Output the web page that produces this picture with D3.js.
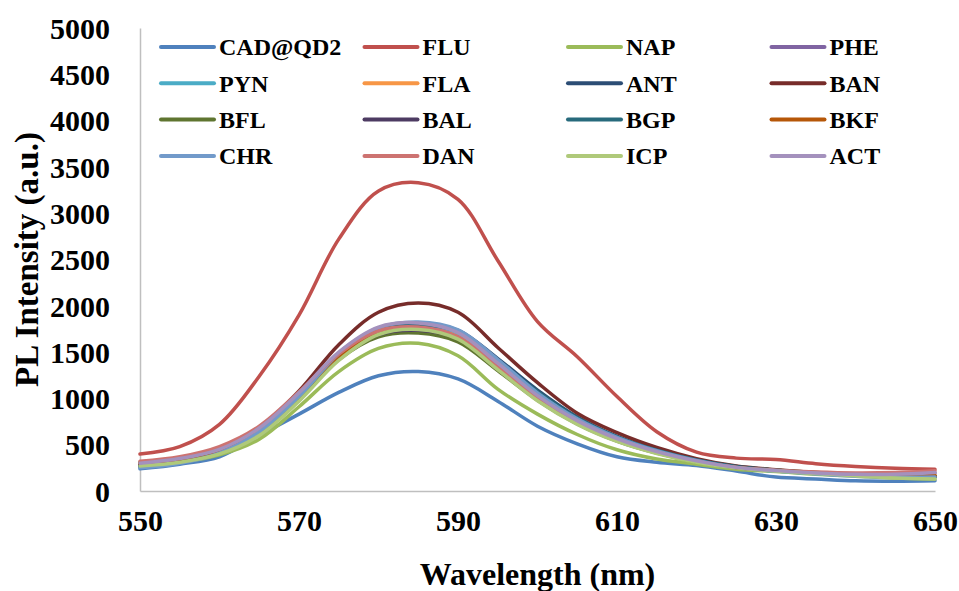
<!DOCTYPE html>
<html>
<head>
<meta charset="utf-8">
<script src="https://cdn.jsdelivr.net/npm/d3@7"></script>
<style>
  html, body { margin: 0; padding: 0; background: #ffffff; }
  svg { display: block; }
  text { font-family: "Liberation Serif", "Times New Roman", serif; font-weight: bold; fill: #000; }
</style>
</head>
<body>
<svg id="chart" width="959" height="591"></svg>
<script>
// Emission wavelengths (nm)
const wavelengths = [550, 555, 560, 565, 570, 575, 580, 585, 590, 595, 600,
                     605, 610, 615, 620, 625, 630, 635, 640, 645, 650];

// PL intensity (a.u.) of each sample at the wavelengths above
const CAD_QD2 = [240, 290, 370, 600, 830, 1065, 1245, 1290, 1210, 970, 700, 510, 370, 310, 275, 215, 150, 130, 110, 105, 110];
const FLU = [400, 480, 720, 1240, 1900, 2720, 3240, 3330, 3150, 2490, 1830, 1450, 1020, 640, 420, 355, 340, 295, 265, 245, 235];
const NAP = [270, 310, 390, 560, 910, 1290, 1540, 1595, 1460, 1100, 830, 610, 445, 345, 290, 235, 210, 180, 160, 140, 130];
const PHE = [290, 340, 440, 670, 1050, 1490, 1760, 1810, 1705, 1375, 1025, 755, 560, 420, 320, 255, 220, 195, 180, 180, 195];
const PYN = [285, 335, 435, 660, 1035, 1465, 1735, 1790, 1690, 1370, 1020, 750, 555, 415, 315, 250, 215, 190, 170, 160, 165];
const FLA = [300, 350, 450, 670, 1040, 1460, 1715, 1765, 1665, 1350, 1010, 745, 555, 420, 320, 255, 220, 195, 175, 165, 170];
const ANT = [260, 310, 420, 650, 1030, 1470, 1750, 1805, 1735, 1430, 1090, 800, 590, 440, 335, 265, 225, 195, 175, 160, 160];
const BAN = [280, 340, 440, 680, 1080, 1580, 1930, 2030, 1930, 1550, 1170, 840, 630, 470, 350, 270, 230, 200, 180, 160, 160];
const BFL = [310, 355, 440, 640, 1000, 1420, 1665, 1705, 1610, 1300, 980, 725, 540, 410, 315, 255, 225, 200, 180, 165, 160];
const BAL = [280, 330, 430, 650, 1030, 1445, 1690, 1735, 1650, 1350, 1020, 755, 565, 425, 325, 260, 225, 195, 175, 160, 155];
const BGP = [270, 320, 425, 650, 1030, 1465, 1740, 1795, 1720, 1415, 1075, 790, 585, 440, 335, 265, 225, 195, 175, 160, 155];
const BKF = [295, 345, 445, 665, 1035, 1455, 1705, 1755, 1660, 1345, 1005, 740, 555, 420, 320, 255, 220, 195, 175, 165, 165];
const CHR = [250, 300, 410, 640, 1020, 1480, 1760, 1825, 1740, 1420, 1060, 780, 580, 435, 330, 255, 215, 185, 160, 150, 150];
const DAN = [320, 370, 480, 700, 1070, 1480, 1730, 1770, 1665, 1350, 1010, 745, 555, 420, 320, 255, 225, 205, 195, 200, 220];
const ICP = [270, 310, 400, 600, 970, 1410, 1690, 1745, 1640, 1310, 975, 720, 535, 405, 310, 250, 215, 190, 165, 140, 130];
const ACT = [300, 350, 450, 680, 1060, 1500, 1770, 1815, 1710, 1380, 1030, 760, 565, 425, 325, 255, 220, 195, 180, 180, 200];

const seriesNames = ["CAD@QD2", "FLU", "NAP", "PHE", "PYN", "FLA", "ANT", "BAN",
                     "BFL", "BAL", "BGP", "BKF", "CHR", "DAN", "ICP", "ACT"];
const seriesValues = [CAD_QD2, FLU, NAP, PHE, PYN, FLA, ANT, BAN,
                      BFL, BAL, BGP, BKF, CHR, DAN, ICP, ACT];
const seriesColors = ["#4F81BD", "#C0504D", "#9BBB59", "#8064A2", "#4BACC6", "#F79646", "#2C4D75", "#772C2A",
                      "#5F7530", "#4D3B62", "#276A7C", "#B65708", "#729ACA", "#CD7371", "#AFC97A", "#A491BD"];

const xTicks = [550, 570, 590, 610, 630, 650];
const yTicks = [0, 500, 1000, 1500, 2000, 2500, 3000, 3500, 4000, 4500, 5000];

const svg = d3.select("#chart");
const plot = { left: 140, right: 935, top: 28, bottom: 491 };

const x = d3.scaleLinear().domain([550, 650]).range([plot.left, plot.right]);
const y = d3.scaleLinear().domain([0, 5000]).range([plot.bottom, plot.top]);

const axisColor = "#BFBFBF";
const fmt = d3.format("d");

// Y axis
const gy = svg.append("g")
  .attr("transform", `translate(${plot.left},0)`)
  .call(d3.axisLeft(y).tickValues(yTicks).tickFormat(fmt).tickSize(0).tickSizeOuter(0).tickPadding(30));
gy.select(".domain").attr("stroke", axisColor).attr("stroke-width", 1.5);
gy.selectAll("text")
  .attr("font-size", 30).attr("font-family", "Liberation Serif").attr("font-weight", "bold")
  .attr("fill", "#000").attr("dy", "0.34em");

// X axis
const gx = svg.append("g")
  .attr("transform", `translate(0,${plot.bottom})`)
  .call(d3.axisBottom(x).tickValues(xTicks).tickFormat(fmt).tickSize(0).tickSizeOuter(0).tickPadding(30));
gx.select(".domain").attr("stroke", axisColor).attr("stroke-width", 1.5);
gx.selectAll("text")
  .attr("font-size", 30).attr("font-family", "Liberation Serif").attr("font-weight", "bold")
  .attr("fill", "#000").attr("dy", "0.34em");

// Axis titles
svg.append("text")
  .attr("x", (plot.left + plot.right) / 2).attr("y", 585)
  .attr("text-anchor", "middle").attr("font-size", 32)
  .text("Wavelength (nm)");

svg.append("text")
  .attr("transform", `translate(38,${(plot.top + plot.bottom) / 2}) rotate(-90)`)
  .attr("text-anchor", "middle").attr("font-size", 33)
  .text("PL Intensity (a.u.)");

// Spectra
const line = d3.line()
  .x((d, i) => x(wavelengths[i]))
  .y(d => y(d))
  .curve(d3.curveCatmullRom.alpha(0.5));

svg.append("g").selectAll("path")
  .data(seriesValues)
  .join("path")
  .attr("d", d => line(d))
  .attr("fill", "none")
  .attr("stroke", (d, i) => seriesColors[i])
  .attr("stroke-width", 3.5)
  .attr("stroke-linejoin", "round")
  .attr("stroke-linecap", "round");

// Legend: 4 columns x 4 rows
const legend = svg.append("g");
const colX = [161, 364.5, 568, 771.5];
const rowY = [47, 83.3, 119.6, 156];
seriesNames.forEach((name, i) => {
  const cx = colX[i % 4], cy = rowY[Math.floor(i / 4)];
  legend.append("line")
    .attr("x1", cx).attr("x2", cx + 53)
    .attr("y1", cy).attr("y2", cy)
    .attr("stroke", seriesColors[i]).attr("stroke-width", 4)
    .attr("stroke-linecap", "round");
  legend.append("text")
    .attr("x", cx + 58).attr("y", cy).attr("dy", "0.35em")
    .attr("font-size", 24)
    .text(name);
});
</script>
</body>
</html>
